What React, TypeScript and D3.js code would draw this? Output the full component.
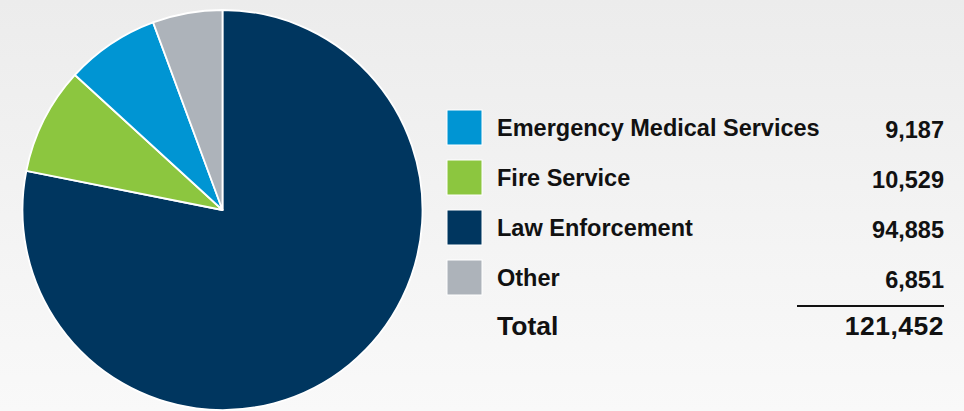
import React from "react";
import * as d3 from "d3";

const categories = ["Emergency Medical Services", "Fire Service", "Law Enforcement", "Other"];
const values = [9187, 10529, 94885, 6851];
const colors = ["#0095d3", "#8cc63f", "#00365f", "#adb3ba"];
const pieOrder = ["Law Enforcement", "Fire Service", "Emergency Medical Services", "Other"];
const totalLabel = "Total";

const W = 964;
const H = 411;

export default function App() {
  const fmt = d3.format(",");
  const total = d3.sum(values);
  const data = pieOrder.map((name) => {
    const i = categories.indexOf(name);
    return { name, value: values[i], color: colors[i] };
  });
  const pie = d3.pie<any>().sort(null).value((d) => d.value);
  const arcs = pie(data);
  const arc = d3.arc<any>().innerRadius(0).outerRadius(200);
  const cx = 222.5, cy = 210;

  const legendY = d3.scaleBand<string>().domain(categories).range([110, 295]).paddingInner(0.3).paddingOuter(0);
  const font = "'Liberation Sans', Arial, Helvetica, sans-serif";

  return (
    <svg width={W} height={H} style={{ position: "absolute", left: 0, top: 0, display: "block" }} fontFamily={font}>
      <defs>
        <linearGradient id="bg" x1="0" y1="0" x2="0" y2="1">
          <stop offset="0" stopColor="#ececec" />
          <stop offset="0.6" stopColor="#f4f4f4" />
          <stop offset="1" stopColor="#f9f9f9" />
        </linearGradient>
      </defs>
      <rect width={W} height={H} fill="url(#bg)" />
      <g transform={`translate(${cx},${cy})`}>
        {arcs.map((a, i) => (
          <path key={i} d={arc(a) as string} fill={a.data.color} stroke="#ffffff" strokeWidth={1.8} strokeLinejoin="round" />
        ))}
      </g>
      <g>
        {categories.map((c, i) => {
          const y = legendY(c)!;
          const bw = legendY.bandwidth();
          return (
            <g key={c}>
              <rect x={447} y={y} width={bw} height={bw} fill={colors[i]} stroke="#ffffff" strokeWidth={1} />
              <text x={497} y={y + 25.5} fontSize={23.5} fontWeight="bold" fill="#111">{c}</text>
              <text x={944} y={y + 27.5} fontSize={23.5} fontWeight="bold" fill="#111" textAnchor="end">{fmt(values[i])}</text>
            </g>
          );
        })}
        <line x1={797} x2={944} y1={306} y2={306} stroke="#111" strokeWidth={2} />
        <text x={497} y={335} fontSize={26.5} fontWeight="bold" fill="#111">{totalLabel}</text>
        <text x={944} y={335} fontSize={26.5} fontWeight="bold" fill="#111" textAnchor="end" letterSpacing={0.5}>{fmt(total)}</text>
      </g>
    </svg>
  );
}
